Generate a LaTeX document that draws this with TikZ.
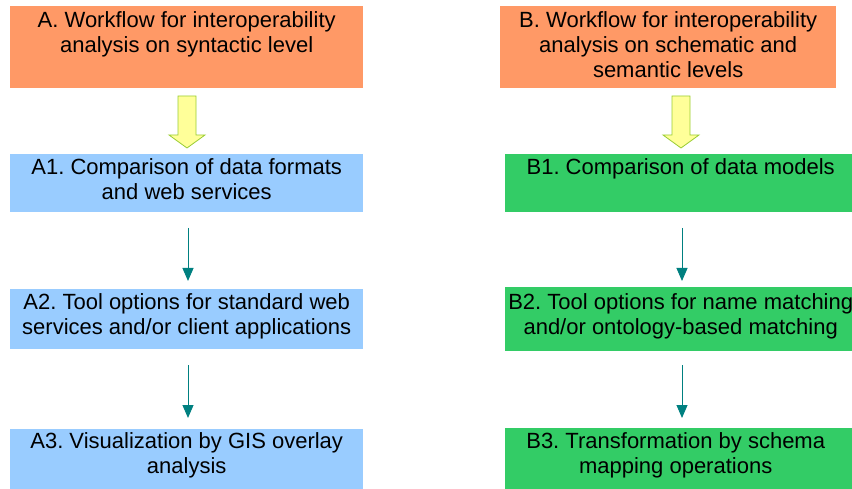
\documentclass[tikz,border=0pt]{standalone}
\usepackage{fontspec}
\setmainfont{Liberation Sans}
\frenchspacing
\usetikzlibrary{arrows.meta}
\definecolor{orangebox}{HTML}{FF9966}
\definecolor{bluebox}{HTML}{99CCFF}
\definecolor{greenbox}{HTML}{33CC66}
\definecolor{yelfill}{HTML}{FFFF99}
\definecolor{yelline}{HTML}{99CC33}
\definecolor{tealline}{HTML}{008080}
\tikzset{
  box/.style={draw=none, inner sep=0pt, anchor=north west},
  txt/.style={anchor=north, align=center, font=\fontsize{22}{25}\selectfont, inner sep=0pt},
  flow/.style={draw=tealline, line width=1pt, -{Triangle[length=13pt,width=11pt]}, shorten >=0pt},
}
\begin{document}
\frenchspacing
\begin{tikzpicture}[x=1pt,y=-1pt]
\useasboundingbox (0,0) rectangle (852,489);
% boxes
\node[box, fill=orangebox, minimum width=353pt, minimum height=82pt] (A) at (10,6) {};
\node[box, fill=orangebox, minimum width=336pt, minimum height=82pt] (B) at (500,6) {};
\node[box, fill=bluebox, minimum width=353pt, minimum height=58pt] (A1) at (10,154) {};
\node[box, fill=bluebox, minimum width=353pt, minimum height=60pt] (A2) at (10,289) {};
\node[box, fill=bluebox, minimum width=353pt, minimum height=60pt] (A3) at (10,429) {};
\node[box, fill=greenbox, minimum width=347pt, minimum height=58pt] (B1) at (505,154) {};
\node[box, fill=greenbox, minimum width=347pt, minimum height=64pt] (B2) at (505,287) {};
\node[box, fill=greenbox, minimum width=347pt, minimum height=61pt] (B3) at (505,428) {};
% texts
\node[txt] (tA) at ([yshift=-5pt]A.north) {A. Workflow for interoperability\\analysis on syntactic level};
\node[txt] (tB) at ([yshift=-5pt]B.north) {B. Workflow for interoperability\\analysis on schematic and\\semantic levels};
\node[txt] (tA1) at ([yshift=-4pt]A1.north) {A1. Comparison of data formats\\and web services};
\node[txt] (tA2) at ([yshift=-4pt]A2.north) {A2. Tool options for standard web\\services and/or client applications};
\node[txt] (tA3) at ([yshift=-3pt]A3.north) {A3. Visualization by GIS overlay\\analysis};
\node[txt] (tB1) at ([xshift=2pt,yshift=-4pt]B1.north) {B1. Comparison of data models};
\node[txt] (tB2) at ([xshift=2pt,yshift=-6pt]B2.north) {B2. Tool options for name matching\\and/or ontology-based matching};
\node[txt] (tB3) at ([xshift=-3pt,yshift=-4pt]B3.north) {B3. Transformation by schema\\mapping operations};
% block arrows
\foreach \nm/\cx in {ya/187, yb/681}{
  \draw[draw=yelline, fill=yelfill, line width=0.8pt, line join=miter]
    (\cx-9,96) -- (\cx+9,96) -- (\cx+9,135) -- (\cx+18,135) -- (\cx,148)
    -- (\cx-18,135) -- (\cx-9,135) -- cycle;
}
% flow arrows
\coordinate (a1s) at (188,228); \coordinate (a1e) at (188,281);
\coordinate (a2s) at (188,365); \coordinate (a2e) at (188,418);
\coordinate (b1s) at (682,228); \coordinate (b1e) at (682,281);
\coordinate (b2s) at (682,365); \coordinate (b2e) at (682,418);
\draw[flow] (a1s) -- (a1e);
\draw[flow] (a2s) -- (a2e);
\draw[flow] (b1s) -- (b1e);
\draw[flow] (b2s) -- (b2e);
\end{tikzpicture}
\end{document}
